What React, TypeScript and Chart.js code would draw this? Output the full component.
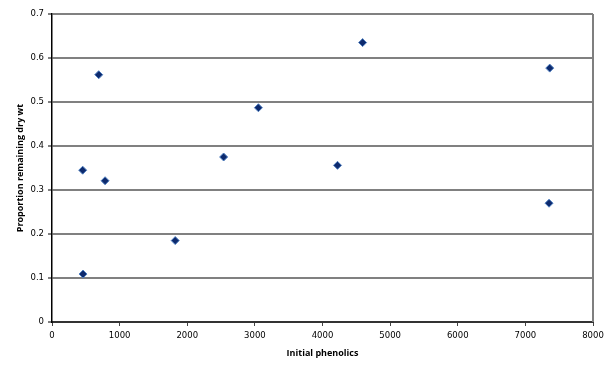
import React, { useEffect, useRef } from "react";
import { Chart, registerables } from "chart.js";

Chart.register(...registerables);

const phenolics = [459, 454, 785, 691, 1822, 2538, 3052, 4222, 4593, 7360, 7350];
const proportion = [0.109, 0.345, 0.321, 0.562, 0.185, 0.375, 0.487, 0.356, 0.635, 0.577, 0.27];
const xTitle = "Initial phenolics";
const yTitle = "Proportion remaining dry wt";

const rightBorder = {
  id: "rightBorder",
  afterDraw(chart: any) {
    const { ctx, chartArea } = chart;
    ctx.save();
    ctx.strokeStyle = "#7f7f7f";
    ctx.lineWidth = 2;
    ctx.beginPath();
    ctx.moveTo(chartArea.right, chartArea.top);
    ctx.lineTo(chartArea.right, chartArea.bottom);
    ctx.stroke();
    ctx.restore();
  },
};

export default function App() {
  const ref = useRef<HTMLCanvasElement>(null);
  useEffect(() => {
    document.body.style.margin = "0";
    const points = phenolics.map((x, i) => ({ x, y: proportion[i] }));
    const chart = new Chart(ref.current!, {
      type: "scatter",
      data: {
        datasets: [
          {
            data: points,
            pointStyle: "rectRot",
            pointRadius: 4,
            pointBackgroundColor: "#0d2a6e",
            pointBorderColor: "#4f7fc0",
            pointBorderWidth: 1,
          },
        ],
      },
      options: {
        animation: false,
        responsive: false,
        maintainAspectRatio: false,
        layout: { padding: { left: 15, right: 23, top: 14, bottom: 12 } },
        plugins: { legend: { display: false }, tooltip: { enabled: false } },
        scales: {
          x: {
            type: "linear",
            min: 0,
            max: 8000,
            afterFit: (s: any) => {
              s.height = 37;
            },
            ticks: {
              stepSize: 1000,
              color: "#000",
              font: { family: "DejaVu Sans", size: 8.5 },
              padding: 5,
              callback: (v: any) => String(v),
            },
            grid: { drawOnChartArea: false, drawTicks: true, tickLength: 4, color: "#444", lineWidth: 1 },
            border: { color: "#333", width: 2 },
            title: {
              display: true,
              text: xTitle,
              color: "#000",
              font: { family: "Open Sans", size: 9, weight: "bold" },
              padding: { top: 2, bottom: 0 },
            },
          },
          y: {
            min: 0,
            max: 0.7,
            afterFit: (s: any) => {
              s.width = 37;
            },
            ticks: {
              stepSize: 0.1,
              color: "#000",
              font: { family: "DejaVu Sans", size: 8.5 },
              padding: 4,
              callback: (v: any) => (Number(v) === 0 ? "0" : Number(v).toFixed(1)),
            },
            grid: { color: "#808080", lineWidth: 2, drawTicks: true, tickLength: 4 },
            border: { color: "#000", width: 1.5 },
            title: {
              display: true,
              text: yTitle,
              color: "#000",
              font: { family: "Open Sans", size: 9, weight: "bold" },
              padding: { top: 0, bottom: 6 },
            },
          },
        },
      },
      plugins: [rightBorder],
    });
    return () => chart.destroy();
  }, []);
  return (
    <div style={{ width: 616, height: 371, background: "#fff" }}>
      <canvas ref={ref} width={616} height={371} style={{ width: 616, height: 371 }} />
    </div>
  );
}
